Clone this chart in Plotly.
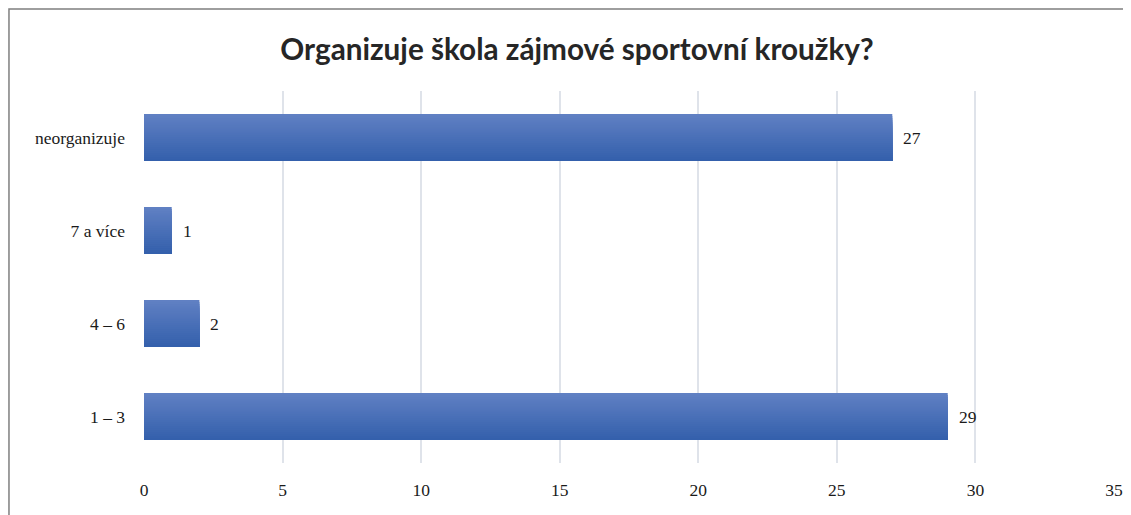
import plotly.graph_objects as go

categories = ["1 – 3", "4 – 6", "7 a více", "neorganizuje"]
values = [29, 2, 1, 27]
x_ticks = [0, 5, 10, 15, 20, 25, 30, 35]
title_text = "Organizuje škola zájmové sportovní kroužky?"

# gradient approximation: nested bars from the bottom edge, light (top) to dark (bottom)
top_rgb = (96, 128, 195)
bot_rgb = (52, 96, 172)
N = 24
bar_w = 0.505

fig = go.Figure()
for i in range(N):
    t = i / (N - 1)
    r = round(top_rgb[0] + (bot_rgb[0] - top_rgb[0]) * t)
    g = round(top_rgb[1] + (bot_rgb[1] - top_rgb[1]) * t)
    b = round(top_rgb[2] + (bot_rgb[2] - top_rgb[2]) * t)
    fig.add_trace(go.Bar(
        x=values, y=categories, orientation="h",
        width=bar_w * (1 - i / N), offset=-bar_w / 2,
        marker=dict(color=f"rgb({r},{g},{b})", line=dict(width=0)),
        showlegend=False, hoverinfo="x+y" if i == 0 else "skip",
    ))

for c, v in zip(categories, values):
    fig.add_annotation(x=v, y=c, text=str(v), showarrow=False, xanchor="left",
                       xshift=9, font=dict(family="Liberation Serif", size=17.5, color="#1a1a1a"))

fig.add_shape(type="rect", xref="paper", yref="paper",
              x0=-0.1392, x1=1.2, y0=-0.6, y1=1.2204,
              line=dict(color="#7f7f7f", width=1.5), fillcolor="rgba(0,0,0,0)", layer="above")

fig.update_layout(
    width=1115, height=507,
    margin=dict(l=136, r=9, t=83, b=52, autoexpand=False),
    barmode="overlay",
    paper_bgcolor="white", plot_bgcolor="white",
    title=dict(text=title_text, x=569 / 1115, xanchor="center", y=1 - 42 / 507, yanchor="middle",
               xref="container", yref="container",
               font=dict(family="Lato", size=29.7, color="#262626", weight="bold")),
    xaxis=dict(range=[0, 35], tickvals=x_ticks, showgrid=True, gridcolor="#dfe3ea", gridwidth=1.5,
               zeroline=False, showline=False, ticks="", ticklabelstandoff=14, automargin=False,
               tickfont=dict(family="Liberation Serif", size=17.5, color="#1a1a1a")),
    yaxis=dict(categoryorder="array", categoryarray=categories, showgrid=False, zeroline=False,
               showline=False, ticks="", ticklabelstandoff=18, range=[-0.5, 3.5], automargin=False,
               tickfont=dict(family="Liberation Serif", size=17.5, color="#1a1a1a")),
)

fig.write_html("out.html")
